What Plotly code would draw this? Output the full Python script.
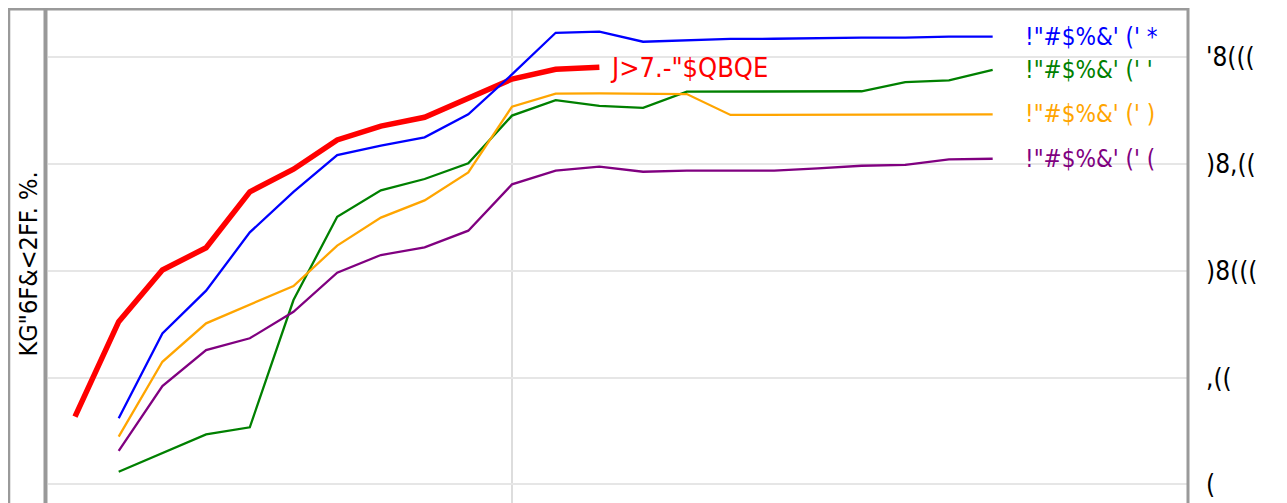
import plotly.graph_objects as go

# x positions (index of period)
x_red = list(range(0, 13))
x_all = list(range(1, 22))

red_vals = [317, 762, 1004, 1108, 1370, 1476, 1613, 1678, 1719, 1808, 1898, 1944, 1953]
blue_vals = [309, 707, 907, 1180, 1370, 1542, 1586, 1625, 1733, 1920, 2115, 2120, 2073, 2081,
             2086, 2087, 2090, 2092, 2092, 2097, 2097]
green_vals = [59, 145, 234, 267, 863, 1253, 1377, 1430, 1504, 1727, 1799, 1773, 1763, 1839,
              1839, 1839, 1839, 1841, 1884, 1892, 1941]
orange_vals = [223, 574, 754, 840, 929, 1118, 1249, 1330, 1461, 1769, 1830, 1831, 1828, 1828,
               1730, 1730, 1730, 1730, 1730, 1733, 1733]
purple_vals = [157, 460, 629, 684, 808, 991, 1074, 1110, 1188, 1405, 1469, 1488, 1464, 1469,
               1469, 1469, 1480, 1492, 1496, 1522, 1525]

red_label = 'J>7.-"$QBQE'
series_labels = ['!"#$%&\' (\' *', '!"#$%&\' (\' \'', '!"#$%&\' (\' )', '!"#$%&\' (\' (']
y_title = 'KG"6F&<2FF. %.'
tick_vals = [0, 500, 1000, 1500, 2000]
tick_text = ['(', ',((', ')8(((', ')8,((', "'8((("]

FONT = "Liberation Sans Narrow, DejaVu Sans Condensed, Arial Narrow, sans-serif"

fig = go.Figure()
fig.add_trace(go.Scatter(x=x_red, y=red_vals, mode="lines", line=dict(color="red", width=5.5)))
series = [(blue_vals, "blue"), (green_vals, "green"), (orange_vals, "orange"), (purple_vals, "purple")]
for vals, col in series:
    fig.add_trace(go.Scatter(x=x_all, y=vals, mode="lines", line=dict(color=col, width=2.3)))

annotations = []
for (vals, col), lab in zip(series, series_labels):
    annotations.append(dict(x=x_all[-1], y=vals[-1], xref="x", yref="y", text=lab,
                            showarrow=False, xanchor="left", yanchor="middle", xshift=30,
                            font=dict(family=FONT, size=24, color=col)))
annotations.append(dict(x=x_red[-1], y=red_vals[-1], xref="x", yref="y", text=red_label,
                        showarrow=False, xanchor="left", yanchor="middle", xshift=9,
                        font=dict(family=FONT, size=27, color="red")))
annotations.append(dict(x=-0.0175, y=0.49, xref="paper", yref="paper", text=y_title,
                        showarrow=False, textangle=-90, xanchor="center", yanchor="middle",
                        font=dict(family=FONT, size=25, color="black")))

shapes = [
    dict(type="line", xref="paper", yref="paper", x0=-0.0342, x1=-0.0342, y0=-0.1, y1=1.0,
         line=dict(color="#9a9a9a", width=2.5)),
    dict(type="line", xref="paper", yref="paper", x0=-0.0346, x1=1.0, y0=0.998, y1=0.998,
         line=dict(color="#9a9a9a", width=3)),
    dict(type="line", xref="paper", yref="paper", x0=-0.0022, x1=-0.0022, y0=-0.1, y1=1.0,
         line=dict(color="#999999", width=4)),
    dict(type="line", xref="paper", yref="paper", x0=1.0, x1=1.0, y0=-0.1, y1=1.0,
         line=dict(color="#9a9a9a", width=3)),
]

fig.update_layout(
    width=1287, height=503,
    margin=dict(l=40, r=107, t=0, b=0),
    paper_bgcolor="white", plot_bgcolor="white",
    showlegend=False,
    annotations=annotations,
    shapes=shapes,
    xaxis=dict(range=[-0.618, 25.47], tickvals=[10], showticklabels=False, showgrid=True,
               gridcolor="#dddddd", gridwidth=2, zeroline=False, showline=False, ticks=""),
    yaxis=dict(range=[-125, 2231], side="right", tickvals=tick_vals, ticktext=tick_text,
               showgrid=True, gridcolor="#e6e6e6", gridwidth=2, zeroline=False, showline=False,
               ticks="", ticklabelstandoff=17,
               tickfont=dict(family=FONT, size=26, color="black")),
)

fig.write_html("out.html")
